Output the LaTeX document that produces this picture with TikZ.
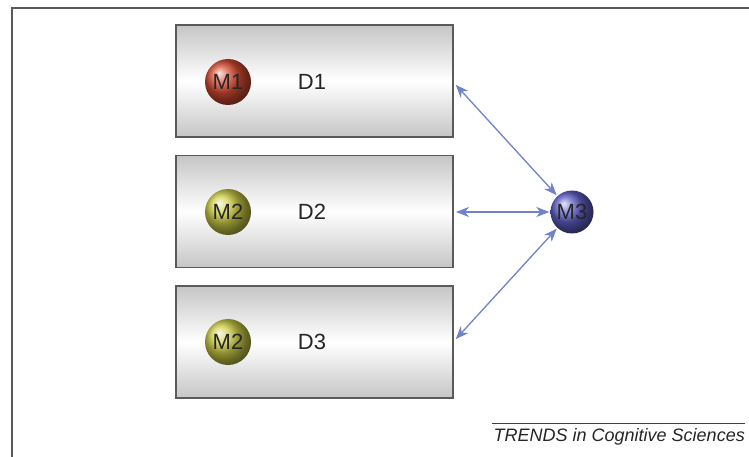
\documentclass[tikz,border=0pt]{standalone}
\usepackage{fontspec}
\setmainfont{Liberation Sans}
\usetikzlibrary{arrows.meta}
\definecolor{arrowblue}{RGB}{112,130,200}
\definecolor{frameg}{RGB}{90,90,90}
\definecolor{mred}{RGB}{215,75,50}
\definecolor{molive}{RGB}{205,205,70}
\definecolor{mblue}{RGB}{95,95,200}
\tikzset{
  dbox/.style={draw=frameg, line width=1.2pt, minimum width=277pt, minimum height=112pt,
    inner sep=0pt, top color=gray!45, bottom color=gray!45, middle color=white},
  ball/.style={circle, minimum size=46pt, inner sep=0pt, text=black!85, font=\fontsize{22}{22}\selectfont},
  lbl/.style={font=\fontsize{22}{22}\selectfont, text=black!85},
  conn/.style={draw=arrowblue, line width=1.3pt, {Stealth[length=13pt,width=10pt,inset=4pt]}-{Stealth[length=13pt,width=10pt,inset=4pt]}, shorten <=1pt, shorten >=1pt}
}
\begin{document}
\begin{tikzpicture}[x=1pt,y=-1pt]
\useasboundingbox (0,0) rectangle (749,457);
\fill[white] (0,0) rectangle (749,457);
\draw[frameg, line width=1.6pt] (12,457) -- (12,8) -- (749,8);
\node[dbox] (b1) at (314.5,81) {};
\node[dbox] (b2) at (314.5,211.5) {};
\node[dbox] (b3) at (314.5,342) {};
\node[ball, ball color=mred] (m1) at (228,82) {M1};
\node[ball, ball color=molive] (m2a) at (228,212) {M2};
\node[ball, ball color=molive] (m2b) at (228,342) {M2};
\node[lbl] (d1) at (312,82) {D1};
\node[lbl] (d2) at (312,212) {D2};
\node[lbl] (d3) at (312,342) {D3};
\node[ball, minimum size=43pt, ball color=mblue] (m3) at (572,212) {M3};
\coordinate (e1) at (455,84);
\coordinate (e2) at (455,212);
\coordinate (e3) at (455,340);
\draw[conn] (e1) -- (m3);
\draw[conn] (e2) -- (m3);
\draw[conn] (e3) -- (m3);
\coordinate (c1) at (492,423);
\coordinate (c2) at (745,423);
\draw[black!75, line width=1pt] (c1) -- (c2);
\node[anchor=east, font=\itshape\fontsize{18}{18}\selectfont, text=black!85, inner sep=0pt] (cap) at (745,437) {TRENDS in Cognitive Sciences};
\end{tikzpicture}
\end{document}
